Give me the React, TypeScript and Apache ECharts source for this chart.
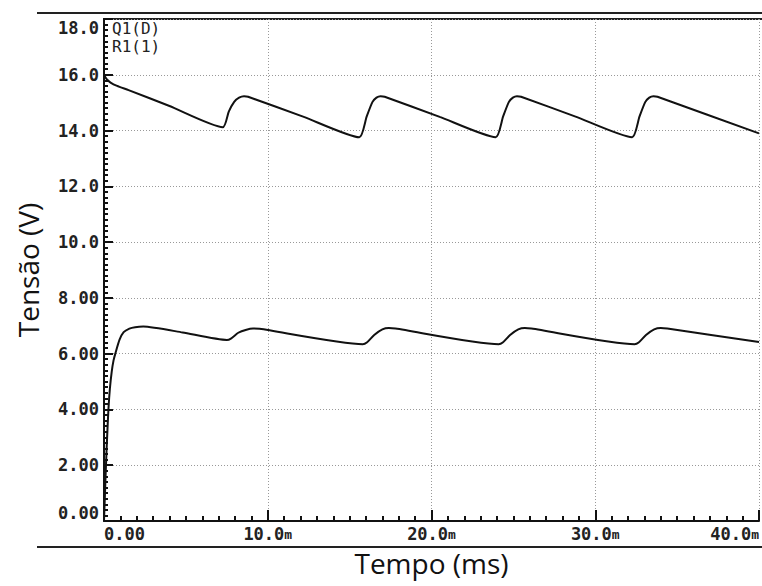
import React, { useEffect, useRef } from "react";
import * as echarts from "echarts";

// Q1(D) trace: time (ms) and voltage (V)
const upperTime = [
  0, 0.15, 0.4, 0.8, 1.5, 4.0, 7.26,
  7.62, 7.95, 8.25, 8.55, 8.8, 12.2, 15.59,
  16.04, 16.39, 16.64, 16.89, 17.14, 20.5, 23.92,
  24.37, 24.72, 24.97, 25.22, 25.47, 28.8, 32.25,
  32.7, 33.05, 33.3, 33.55, 33.8, 40,
];
const upperVolt = [
  16.0, 15.85, 15.72, 15.6, 15.45, 14.88, 14.12,
  14.68, 15.03, 15.18, 15.23, 15.21, 14.49, 13.76,
  14.5, 15.02, 15.18, 15.23, 15.21, 14.49, 13.76,
  14.5, 15.02, 15.18, 15.23, 15.21, 14.5, 13.76,
  14.5, 15.02, 15.18, 15.23, 15.21, 13.9,
];

// R1(1) trace
const lowerTime = [
  0, 0.06, 0.12, 0.19, 0.27, 0.36, 0.47, 0.58, 0.7, 0.95, 1.2, 1.55, 1.9, 2.4, 4.8, 7.5,
  7.75, 8.2, 8.7, 9.1, 9.5, 15.8,
  16.05, 16.5, 17.0, 17.4, 17.8, 24.1,
  24.35, 24.8, 25.3, 25.7, 26.1, 32.4,
  32.65, 33.1, 33.6, 34.0, 34.4, 40,
];
const lowerVolt = [
  0, 1.0, 2.0, 3.0, 4.0, 4.75, 5.35, 5.75, 6.02, 6.5, 6.77, 6.9, 6.95, 6.97, 6.76, 6.49,
  6.54, 6.75, 6.86, 6.9, 6.89, 6.34,
  6.4, 6.67, 6.87, 6.92, 6.9, 6.34,
  6.4, 6.67, 6.87, 6.92, 6.9, 6.34,
  6.4, 6.67, 6.87, 6.92, 6.9, 6.42,
];

const traceNames = ["Q1(D)", "R1(1)"];
const xAxisTitle = "Tempo (ms)";
const yAxisTitle = "Tensão (V)";

const monoFont = "'DejaVu Sans Mono', monospace";
const sansFont = "'Open Sans', 'Noto Sans', sans-serif";

export default function App() {
  const ref = useRef<HTMLDivElement>(null);

  useEffect(() => {
    if (!ref.current) return;
    const chart = echarts.init(ref.current, null, { renderer: "svg" });
    const zip = (xs: number[], ys: number[]) => xs.map((x, i) => [x, ys[i]]);
    const lineColor = "#111";

    chart.setOption({
      animation: false,
      backgroundColor: "#fff",
      grid: { left: 104, top: 19, right: 1, bottom: 65 },
      xAxis: {
        type: "value",
        min: 0,
        max: 40,
        interval: 10,
        name: xAxisTitle,
        nameLocation: "middle",
        nameGap: 28,
        nameTextStyle: { fontFamily: sansFont, fontSize: 28, color: "#111" },
        axisLine: { show: true, onZero: false, lineStyle: { color: "#111", width: 2 } },
        axisTick: { show: true, inside: true, length: 11, lineStyle: { color: "#111", width: 2 } },
        minorTick: { show: true, splitNumber: 10, length: 5, lineStyle: { color: "#111", width: 2 } },
        splitLine: { show: true, lineStyle: { color: "#999", type: [1, 2], width: 1 } },
        axisLabel: {
          margin: 4,
          alignMinLabel: "left",
          alignMaxLabel: "right",
          fontFamily: monoFont,
          fontWeight: "bold",
          fontSize: 17,
          color: "#222",
          formatter: (v: number) => (v === 0 ? "{a|0.00}" : "{a|" + v.toFixed(1) + "}{m|m}"),
          rich: {
            a: { fontFamily: monoFont, fontWeight: "bold", fontSize: 17, color: "#222" },
            m: { fontFamily: monoFont, fontWeight: "bold", fontSize: 13, color: "#222", verticalAlign: "bottom", padding: [0, 0, 1, 0] },
          },
        },
      },
      yAxis: {
        type: "value",
        min: 0,
        max: 18,
        interval: 2,
        name: yAxisTitle,
        nameLocation: "middle",
        nameRotate: 90,
        nameGap: 62,
        nameTextStyle: { fontFamily: sansFont, fontSize: 28, color: "#111" },
        axisLine: { show: true, onZero: false, lineStyle: { color: "#111", width: 2 } },
        axisTick: { show: true, inside: true, length: 9, lineStyle: { color: "#111", width: 2 } },
        minorTick: { show: true, splitNumber: 10, length: 4, lineStyle: { color: "#111", width: 2 } },
        splitLine: { show: true, lineStyle: { color: "#999", type: [1, 2], width: 1 } },
        axisLabel: {
          margin: 5,
          verticalAlignMinLabel: "bottom",
          verticalAlignMaxLabel: "top",
          fontFamily: monoFont,
          fontWeight: "bold",
          fontSize: 17,
          color: "#222",
          formatter: (v: number) => (v >= 10 ? v.toFixed(1) : v.toFixed(2)),
        },
      },
      graphic: [
        { type: "line", shape: { x1: 37, y1: 13, x2: 762, y2: 13 }, style: { stroke: "#222", lineWidth: 2 } },
        { type: "line", shape: { x1: 103, y1: 19, x2: 762, y2: 19 }, style: { stroke: "#222", lineWidth: 2 } },
        { type: "line", shape: { x1: 37, y1: 547, x2: 762, y2: 547 }, style: { stroke: "#222", lineWidth: 2 } },
        { type: "text", x: 112, y: 28, style: { text: traceNames[0], fontFamily: monoFont, fontSize: 16, lineHeight: 16, fill: "#222", verticalAlign: "middle" } },
        { type: "text", x: 112, y: 46, style: { text: traceNames[1], fontFamily: monoFont, fontSize: 16, lineHeight: 16, fill: "#222", verticalAlign: "middle" } },
      ],
      series: [
        {
          name: traceNames[0],
          type: "line",
          data: zip(upperTime, upperVolt),
          showSymbol: false,
          smooth: 0.2,
          lineStyle: { color: lineColor, width: 2 },
        },
        {
          name: traceNames[1],
          type: "line",
          data: zip(lowerTime, lowerVolt),
          showSymbol: false,
          smooth: 0.2,
          lineStyle: { color: lineColor, width: 2 },
        },
      ],
    });
    return () => chart.dispose();
  }, []);

  return (
    <div
      ref={ref}
      style={{ position: "absolute", left: 0, top: 0, width: 762, height: 586, background: "#fff" }}
    />
  );
}
